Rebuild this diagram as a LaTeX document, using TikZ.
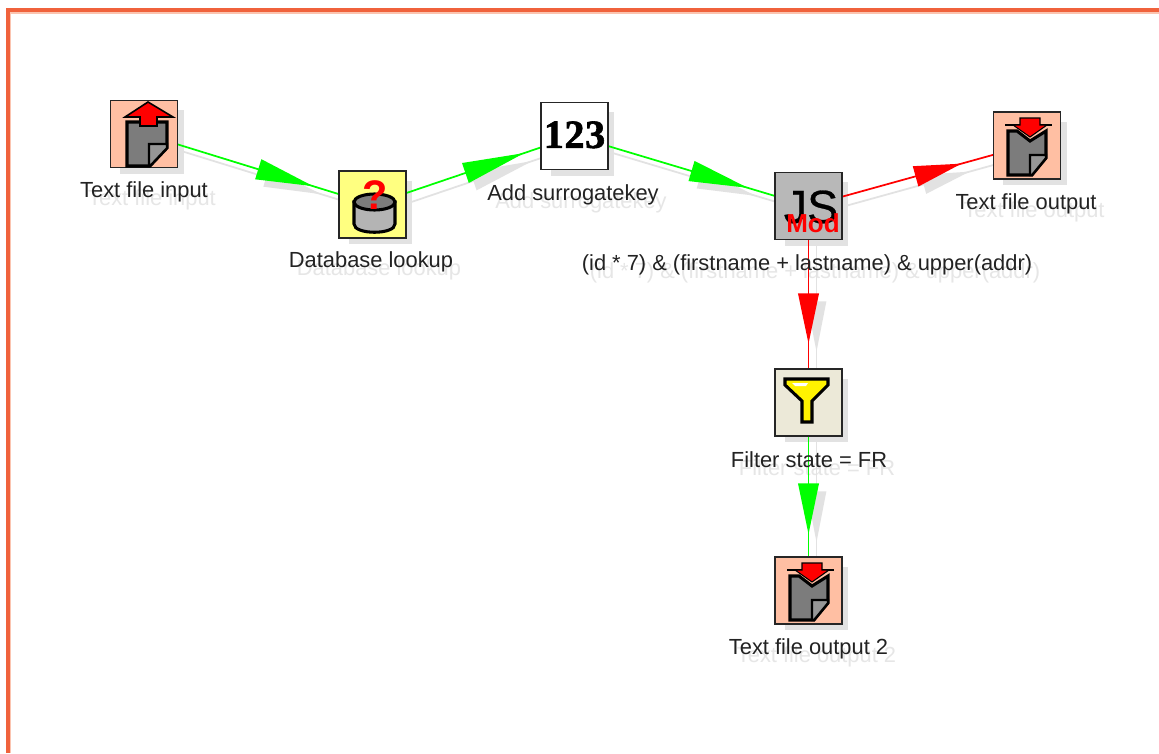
\documentclass[tikz,border=0pt]{standalone}
\usepackage{fontspec}
\setmainfont{Liberation Sans}
\newfontfamily\numfont[BoldFeatures={FakeBold=1.5}]{Liberation Serif}
\newfontfamily\jsfont[FakeBold=0.6]{Liberation Sans}
\usetikzlibrary{calc,backgrounds}
\definecolor{framecol}{HTML}{F0623C}
\definecolor{framesoft}{HTML}{FBC4B0}
\definecolor{shadowcol}{HTML}{E2E2E2}
\definecolor{shadowtext}{HTML}{E6E6E6}
\definecolor{peach}{HTML}{FFBFA3}
\definecolor{lookupyellow}{HTML}{FFFF80}
\definecolor{jsgray}{HTML}{B8B8B8}
\definecolor{filterbeige}{HTML}{ECE9D8}
\definecolor{labelink}{HTML}{222222}
\definecolor{docgray}{HTML}{7C7C7C}
\definecolor{foldshade}{HTML}{969696}
\definecolor{cylgray}{HTML}{B4B4B4}
\definecolor{okgreen}{HTML}{00FF00}
\definecolor{errred}{HTML}{FF0000}
\tikzset{
  stepbox/.style={draw=black!85,line width=1.5*0.75pt,minimum size=50.5pt,inner sep=0pt,outer sep=0pt},
  boxshadow/.style={fill=shadowcol,draw=none},
  steplabel/.style={text=labelink,font=\fontsize{16.4}{18}\selectfont,inner sep=0pt},
  shadowlabel/.style={text=shadowtext,font=\fontsize{16.4}{18}\selectfont,inner sep=0pt},
  linkline/.style={line width=1.3pt},
  iconline/.style={draw=black,line width=2.3pt,line join=miter},
}
% link: from, to, base fraction, tip fraction, colour
\newcommand{\linkarrow}[5]{%
  \coordinate (hdb) at ($(#1)!#3!(#2)$);
  \coordinate (hdt) at ($(#1)!#4!(#2)$);
  \draw[shadowcol,linkline] ([xshift=6pt,yshift=-6pt]#1.center) -- ([xshift=6pt,yshift=-6pt]#2.center);
  \fill[shadowcol] ([xshift=6pt,yshift=-6pt]hdt) -- ([xshift=6pt,yshift=-6pt]$(hdb)!7.4pt!90:(hdt)$) -- ([xshift=6pt,yshift=-6pt]$(hdb)!7.4pt!-90:(hdt)$) -- cycle;
  \draw[#5,linkline] (#1) -- (#2);
  \fill[#5] (hdt) -- ($(hdb)!7.9pt!90:(hdt)$) -- ($(hdb)!7.9pt!-90:(hdt)$) -- cycle;
}
\newcommand{\boxshade}[1]{\fill[boxshadow] ([xshift=7.5pt,yshift=-7.5pt]#1.north west) rectangle ([xshift=4.5pt,yshift=-4.5pt]#1.south east);}
\newcommand{\outicon}[2]{%
  \begin{scope}[shift={(#1,#2)}]
    \filldraw[fill=docgray,iconline] (15,19) -- (24,19) -- (37,29) -- (53,19) -- (53,46) -- (39,63) -- (15,63) -- cycle;
    \filldraw[fill=foldshade,draw=black,line width=1.6pt] (37,43) -- (53,43) -- (53,46) -- (39,63) -- (37,63) -- cycle;
    \draw[iconline,line width=1.6pt] (12,13) -- (59,13);
    \filldraw[fill=errred,draw=black,line width=.8pt] (27,6) -- (47,6) -- (47,13) -- (54,13) -- (37,25) -- (20,13) -- (27,13) -- cycle;
  \end{scope}}
\begin{document}
\begin{tikzpicture}[x=0.75pt,y=-0.75pt]
\useasboundingbox (0,0) rectangle (1159,753);
% step boxes
\node[stepbox,fill=peach] (input) at (144,134) {};
\node[stepbox,fill=lookupyellow] (lookup) at (372.5,204.5) {};
\node[stepbox,fill=white,font=\numfont\bfseries\fontsize{30}{30}\selectfont] (surrogate) at (574.5,136) {\raisebox{2pt}{\hspace{1pt}1\hspace{.5pt}2\hspace{.5pt}3\hspace{1pt}}};
\node[stepbox,fill=jsgray] (jsmod) at (808.5,206) {};
\node[stepbox,fill=peach] (output) at (1027,145.5) {};
\node[stepbox,fill=filterbeige] (filter) at (808.5,402.5) {};
\node[stepbox,fill=peach] (outputtwo) at (808.5,590.5) {};
% labels
\node[steplabel] (lblinput) at (144,192) {Text file input};
\node[steplabel] (lbllookup) at (371,262) {Database lookup};
\node[steplabel] (lblsurrogate) at (573,194.5) {Add surrogatekey};
\node[steplabel] (lbljs) at (807,264.5) {(id * 7) \& (firstname + lastname) \& upper(addr)};
\node[steplabel] (lbloutput) at (1026,203.5) {Text file output};
\node[steplabel] (lblfilter) at (809,459.5) {Filter state = FR};
\node[steplabel] (lbloutputtwo) at (808.5,648.5) {Text file output 2};
% icons
\begin{scope}[shift={(110,100)}]
  \filldraw[fill=docgray,iconline] (17,22) -- (57,22) -- (57,48) -- (40,66) -- (17,66) -- cycle;
  \filldraw[fill=foldshade,draw=black,line width=1.6pt] (39,44) -- (57,44) -- (57,48) -- (40,66) -- (39,66) -- cycle;
  \filldraw[fill=errred,draw=black,line width=1.2pt] (38,2) -- (63,17) -- (47,17) -- (47,26) -- (30,26) -- (30,17) -- (15,17) -- cycle;
\end{scope}
\begin{scope}[shift={(339,171)}]
  \filldraw[fill=cylgray,iconline] (15,31) -- (15,53) .. controls (15,64) and (56,64) .. (56,53) -- (56,31) -- cycle;
  \filldraw[fill=docgray,iconline] (35.5,31) ellipse[x radius=20.5,y radius=8];
  \node[text=errred,font=\bfseries\fontsize{31}{31}\selectfont,inner sep=0pt] (lookupmark) at (36,24) {?};
\end{scope}
\node[text=black,font=\jsfont\fontsize{35}{35}\selectfont,inner sep=0pt] (jstext) at (811,207) {JS};
\node[text=errred,font=\bfseries\fontsize{19.5}{20}\selectfont,inner sep=0pt] (modtext) at (813,223) {Mod};
\outicon{993}{112}
\begin{scope}[shift={(775,369)}]
  \filldraw[fill=yellow,iconline] (10,10) -- (53,10) -- (53,16) -- (37,32) -- (37,53) -- (27,53) -- (27,32) -- (10,16) -- cycle;
  \fill[white] (17,14) -- (33,14) -- (31,17) -- (20,17) -- cycle;
\end{scope}
\outicon{775}{557}
\begin{scope}[on background layer]
  \fill[white] (0,0) rectangle (1159,753);
  \fill[framesoft] (6,8) rectangle (1159,13.5);
  \fill[framesoft] (6,8) rectangle (11,753);
  \fill[framecol] (6,8) rectangle (1159,12);
  \fill[framecol] (6,8) rectangle (9.5,753);
  \boxshade{input}\boxshade{lookup}\boxshade{surrogate}\boxshade{jsmod}\boxshade{output}\boxshade{filter}\boxshade{outputtwo}
  \node[shadowlabel] (shinput) at (152,200) {Text file input};
  \node[shadowlabel] (shlookup) at (379,270) {Database lookup};
  \node[shadowlabel] (shsurrogate) at (581,202.5) {Add surrogatekey};
  \node[shadowlabel] (shjs) at (815,272.5) {(id * 7) \& (firstname + lastname) \& upper(addr)};
  \node[shadowlabel] (shoutput) at (1034,211.5) {Text file output};
  \node[shadowlabel] (shfilter) at (817,467.5) {Filter state = FR};
  \node[shadowlabel] (shoutputtwo) at (816.5,656.5) {Text file output 2};
  \linkarrow{input}{lookup}{.5}{.74}{okgreen}
  \linkarrow{lookup}{surrogate}{.46}{.75}{okgreen}
  \linkarrow{surrogate}{jsmod}{.5}{.74}{okgreen}
  \linkarrow{jsmod}{output}{.49}{.70}{errred}
  \linkarrow{jsmod}{filter}{.445}{.70}{errred}
  \linkarrow{filter}{outputtwo}{.43}{.70}{okgreen}
\end{scope}
\end{tikzpicture}
\end{document}
